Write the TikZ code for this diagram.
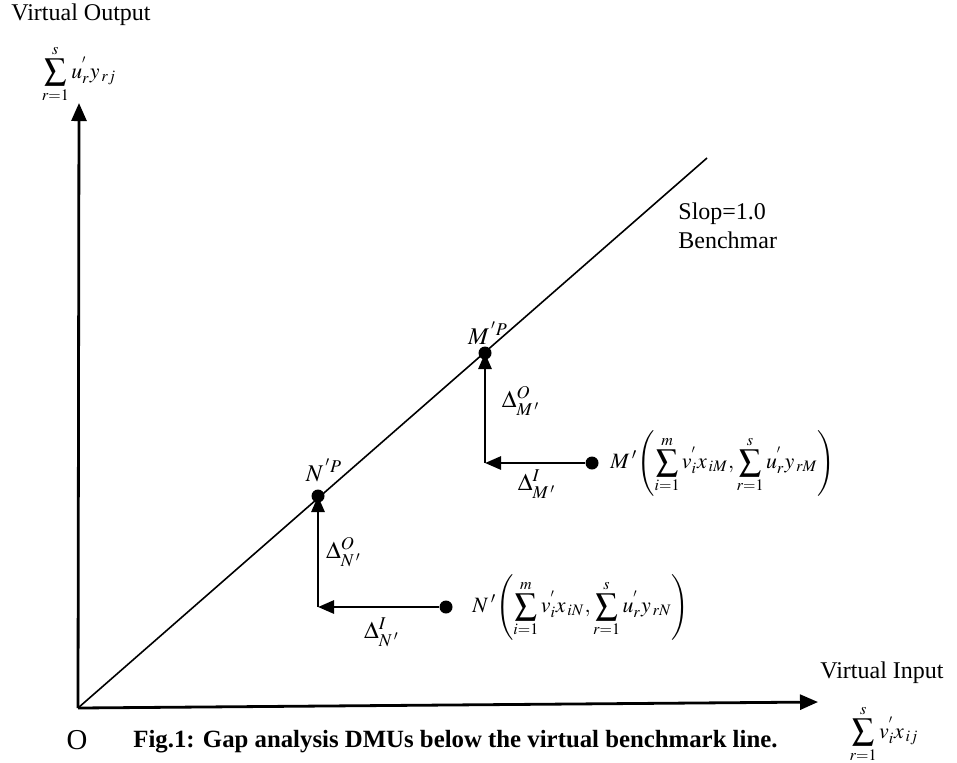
\documentclass[tikz,border=0pt,12pt]{standalone}
\usepackage{mathptmx}
\usepackage{fontspec}
\setmainfont{Liberation Serif}
\usetikzlibrary{arrows.meta}
\tikzset{
  axis/.style={line width=1.4pt, -{Triangle[length=9pt,width=7.5pt]}},
  gap/.style={line width=1.4pt, -{Triangle[length=8pt,width=6.5pt]}},
  bench/.style={line width=0.8pt},
  pt/.style={circle, fill=black, inner sep=0pt, minimum size=6.5pt},
  lbl/.style={inner sep=0pt, font=\normalsize},
  mlbl/.style={inner sep=0pt, font=\normalsize},
  slbl/.style={inner sep=0pt, font=\small}
}

\begin{document}
\begin{tikzpicture}[x=0.5pt,y=-0.5pt]
  \useasboundingbox (0,0) rectangle (957,762);
  % axes and benchmark line
  \coordinate (O) at (78,708);
  \coordinate (ytop) at (79,103);
  \coordinate (xend) at (818,702);
  \coordinate (bend) at (707,158);
  \draw[axis] (O) -- (ytop);
  \draw[axis] (O) -- (xend);
  \draw[bench] (O) -- (bend);

  % DMU M'
  \node[pt] (Mp) at (485,353) {};
  \coordinate (Mc) at (485,463);
  \node[pt] (Mq) at (592,463) {};
  \draw[gap] (Mq) -- (Mc);
  \draw[gap] (Mc) -- (Mp.center);

  % DMU N'
  \node[pt] (Np) at (318,496) {};
  \coordinate (Nc) at (318,607);
  \node[pt] (Nq) at (446,607) {};
  \draw[gap] (Nq) -- (Nc);
  \draw[gap] (Nc) -- (Np.center);

  % labels
  \node[lbl, anchor=west] (yname) at (11,15) {Virtual Output};
  \node[slbl] (ysum) at (79,74) {$\displaystyle\sum_{r=1}^{s} u_{r}^{'} y_{\,rj}$};
  \node[lbl, anchor=west] (xname) at (820,673) {Virtual Input};
  \node[slbl] (xsum) at (884,734) {$\displaystyle\sum_{r=1}^{s} v_{i}^{'} x_{\,ij}$};
  \node[lbl, font=\large] (oname) at (77,740) {O};
  \node[lbl, anchor=west, align=left] (slope) at (678,226) {Slop=1.0\\Benchmar};

  \node[mlbl] (Mpname) at (488,333) {$M^{\,'P}$};
  \node[mlbl] (Npname) at (324,470) {$N^{\,'P}$};
  \node[mlbl] (MO) at (521,401) {$\Delta_{M\,'}^{O}$};
  \node[mlbl] (MI) at (537,484) {$\Delta_{M\,'}^{I}$};
  \node[mlbl] (NO) at (344,552) {$\Delta_{N\,'}^{O}$};
  \node[mlbl] (NI) at (382,632) {$\Delta_{N\,'}^{I}$};
  \node[slbl, anchor=west] (Mname) at (610,463)
    {$\displaystyle M\,'\!\left(\sum_{i=1}^{m} v_{i}^{'} x_{\,iM},\sum_{r=1}^{s} u_{r}^{'} y_{\,rM}\right)$};
  \node[slbl, anchor=west] (Nname) at (472,607)
    {$\displaystyle N\,'\!\left(\sum_{i=1}^{m} v_{i}^{'} x_{\,iN},\sum_{r=1}^{s} u_{r}^{'} y_{\,rN}\right)$};

  \node[lbl, anchor=west, font=\bfseries\fontsize{12.4}{14}\selectfont] (cap) at (133,742)
    {Fig.1: Gap analysis DMUs below the virtual benchmark line.};
\end{tikzpicture}
\end{document}
